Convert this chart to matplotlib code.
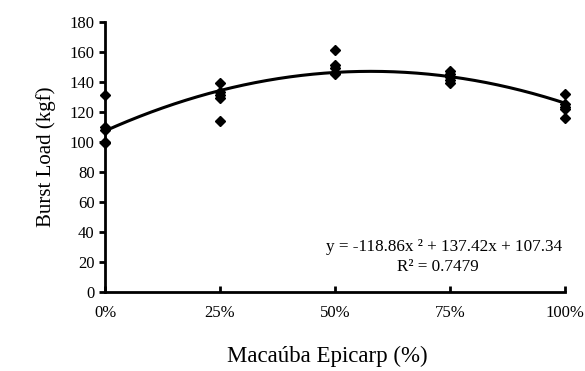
import matplotlib
matplotlib.use("Agg")
import matplotlib.pyplot as plt
import numpy as np

plt.rcParams['font.family'] = ['Liberation Serif', 'DejaVu Serif']

# measured burst loads (kgf) for each epicarp level
levels = [0.0, 0.25, 0.5, 0.75, 1.0]
loads = [
    [131, 110, 108, 100, 99],
    [139, 133, 131, 129, 114],
    [161, 151, 149, 146, 145],
    [147, 145, 143, 141, 139],
    [132, 125, 123, 122, 116],
]
tick_labels = ["0%", "25%", "50%", "75%", "100%"]
coef = [-118.86, 137.42, 107.34]

fig = plt.figure(figsize=(5.85, 3.71), dpi=100)
ax = fig.add_axes([0.1795, 0.2129, 0.786, 0.728])

for x, ys in zip(levels, loads):
    ax.plot([x] * len(ys), ys, linestyle="none", marker="D", ms=5,
            color="black", clip_on=False, zorder=3)

xs = np.linspace(0, 1, 200)
ax.plot(xs, np.polyval(coef, xs), color="black", lw=2.2, zorder=2)

ax.set_xlim(0, 1)
ax.set_ylim(0, 180)
ax.set_yticks(range(0, 181, 20))
ax.set_xticks(levels)
ax.set_xticklabels(tick_labels)

for s in ["top", "right"]:
    ax.spines[s].set_visible(False)
for s in ["left", "bottom"]:
    ax.spines[s].set_linewidth(2)

ax.tick_params(axis="y", direction="out", length=4, width=2, labelsize=12)
ax.tick_params(axis="x", direction="in", length=4, width=2, labelsize=12, pad=9)

ax.set_ylabel("Burst Load (kgf)", fontsize=15, labelpad=10)
fig.text(327 / 585, 1 - 356 / 371, "Macaúba Epicarp (%)", fontsize=16.5,
         ha="center", va="center")

ax.text(444, 124, "y = -118.86x ² + 137.42x + 107.34", transform=None,
        ha="center", va="center", fontsize=12.3)
ax.text(438, 104, "R² = 0.7479", transform=None,
        ha="center", va="center", fontsize=12.3)

fig.savefig("out.png", dpi=100)
